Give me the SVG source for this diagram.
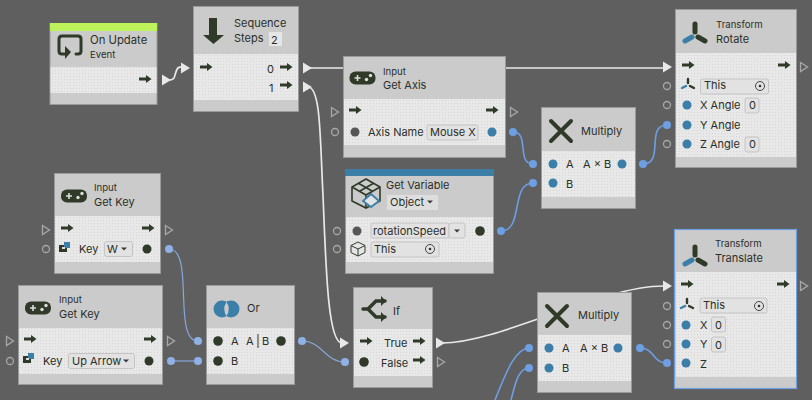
<svg xmlns="http://www.w3.org/2000/svg" width="812" height="400" viewBox="0 0 812 400">
<style>
text{font-family:Inter,"Noto Sans","Liberation Sans",sans-serif;fill:#2b2f28;font-size:11px}
.s{font-size:9.600px}
.fr{fill:#cbcbcb;stroke:#9a9a9a;stroke-width:1}
.bd{fill:url(#dots)}
.fd{fill:#e2e2e2;stroke:#c4c4c4;stroke-width:1}
.blue{fill:#3b7fa8}
.dark{fill:#2f3a28}
.gray{fill:#575757}
.oc{fill:none;stroke:#a8a8a8;stroke-width:1.3}
.ot{fill:none;stroke:#a8a8a8;stroke-width:1.3}
.wire{fill:none;stroke:#6e9fe3;stroke-width:1.6}
.wl{fill:none;stroke:#86a8dc;stroke-width:1.200}
.ww{fill:none;stroke:#e8e8e8;stroke-width:1.7}
.wd{fill:#6e9fe3}
.wdl{fill:#8fb1e6}
.wt{fill:#e8e8e8}
.ln{fill:none;stroke:#2f3a28;stroke-linecap:round}
</style>
<defs>
<pattern id="dots" width="3" height="3" patternUnits="userSpaceOnUse"><rect width="3" height="3" fill="#e8e8e8"/><rect x="1" y="1" width="1" height="1" fill="#d6d6d6"/></pattern>
<path id="ar" class="dark" d="M-6-1.400H1V-4L6.500 0 1 4V1.400H-6Z"/>
<path id="tw" class="wt" d="M0-5.500 9 0 0 5.500Z"/>
<path id="to" class="ot" d="M-3.500-4.500 3.500 0-3.500 4.500Z"/>
<g id="pad"><rect x="-13" y="-6.500" width="26" height="13" rx="6" class="dark"/><path d="M-8 0H-2M-5-3V3" stroke="#ddd" stroke-width="1.600"/><circle cx="4" cy="1.500" r="1.700" fill="#ddd"/><circle cx="8" cy="-2.500" r="1.700" fill="#ddd"/></g>
<g id="tf"><path class="ln" d="M0-3V-11M3 2 10 6" stroke-width="5"/><path d="M-3 2-10 6" fill="none" stroke="#3b7fa8" stroke-width="5" stroke-linecap="round"/></g>
<g id="tfm"><path class="ln" d="M0-2V-6M2 1 6 3" stroke-width="2.400"/><path d="M-2 1-6 3" fill="none" stroke="#3b7fa8" stroke-width="2.400" stroke-linecap="round"/></g>
<g id="tgt"><circle r="4.500" fill="none" stroke="#444" stroke-width="1"/><circle r="1.300" fill="#333"/></g>
<g id="key"><rect x="-6" y="-2" width="8" height="7" class="dark"/><rect x="-1" y="-5" width="6" height="6" class="blue"/><rect x="-3" y="0" width="3" height="2" fill="#ddd"/></g>
<path id="xx" class="ln" stroke-width="4" d="M-10-10 10 10M10-10-10 10"/>
<path id="tri" fill="#3a3a3a" d="M-3-1.500H3L0 1.500Z"/>
</defs>
<rect width="812" height="400" fill="#5f5f5f"/>

<g id="connectors">
<path class="ww" d="M168 80C176 80 174 76 176 72C177 67 180 66 184 68"/>
<use href="#tw" x="162" y="80"/><use href="#tw" x="181" y="68"/>
<path class="ww" d="M308 68H664"/><use href="#tw" x="303" y="68"/><use href="#tw" x="663" y="67"/>
<path class="ww" d="M308 87C321 87 320 140 323 195C326 270 328 343 342 343"/><use href="#tw" x="303" y="87"/><use href="#tw" x="340" y="343"/>
<path class="ww" d="M442 343C500 343 600 286 664 286"/><use href="#tw" x="436" y="343"/><use href="#tw" x="663" y="286"/>
<path class="wire" d="M513 132C530 132 516 164 533 164"/><circle class="wd" cx="513" cy="132" r="4"/><circle class="wd" cx="533" cy="164" r="4"/>
<path class="wire" d="M501 231C524 231 510 183 533 183"/><circle class="wd" cx="501" cy="231" r="4"/><circle class="wd" cx="533" cy="183" r="4"/>
<path class="wire" d="M643 164C665 164 645 125 667 125"/><circle class="wd" cx="643" cy="164" r="4"/><circle class="wd" cx="667" cy="125" r="4"/>
<path class="wl" d="M169 249C195 249 172 341 198 341"/><circle class="wdl" cx="169" cy="249" r="4"/><circle class="wdl" cx="198" cy="341" r="4"/>
<path class="wl" d="M171 361H198"/><circle class="wdl" cx="171" cy="361" r="4"/><circle class="wdl" cx="198" cy="361" r="4"/>
<path class="wl" d="M302 341C322 341 325 362 345 362"/><circle class="wdl" cx="302" cy="341" r="4"/><circle class="wdl" cx="345" cy="362" r="4"/>
<path class="wire" d="M495 400C505 375 515 348 529 348"/><circle class="wd" cx="529" cy="348" r="4"/>
<path class="wire" d="M511 400C515 385 518 368 529 368"/><circle class="wd" cx="529" cy="368" r="4"/>
<path class="wire" d="M640 348C655 348 652 363 667 363"/><circle class="wd" cx="640" cy="348" r="4"/><circle class="wd" cx="667" cy="363" r="4"/>
</g>

<g id="on-update">
<rect class="fr" x="50" y="23.500" width="107" height="81"/>
<rect x="50" y="23" width="107" height="8" fill="#bdf25a"/>
<rect class="bd" x="50.500" y="67" width="106" height="26"/>
<path class="ln" stroke-width="3" d="M66 54H62Q59 54 59 51V39Q59 36 62 36H78Q81 36 81 39V51Q81 54 78 54H76"/>
<path class="dark" d="M65 46 71 52 65 59Z"/>
<text x="90" y="44" font-size="11.300" style="font-size:11.300px">On Update</text><text class="s" x="90" y="58">Event</text>
<use href="#ar" x="145" y="79"/>
</g>

<g id="sequence">
<rect class="fr" x="193.500" y="6.500" width="105" height="105"/>
<rect class="bd" x="194" y="54" width="104" height="46"/>
<path class="dark" d="M209 18H217V35H224L213.500 44 203 35H209Z"/>
<text x="234" y="27">Sequence</text><text x="234" y="42">Steps</text>
<rect x="269" y="32" width="13" height="14" fill="#e6e6e6"/><text x="271" y="44">2</text>
<use href="#ar" x="206" y="67"/><text x="267" y="73">0</text><use href="#ar" x="286" y="67"/>
<text x="269" y="92">1</text><use href="#ar" x="286" y="85"/>
</g>

<g id="get-axis">
<rect class="fr" x="343.500" y="56.500" width="162" height="101"/>
<rect class="bd" x="344" y="99" width="161" height="46"/>
<use href="#pad" x="362.500" y="78"/>
<text class="s" x="383" y="75">Input</text><text x="383" y="89">Get Axis</text>
<use href="#to" x="335" y="112"/><circle class="oc" cx="335" cy="132" r="3.500"/>
<use href="#ar" x="355" y="110"/><use href="#ar" x="492" y="110"/><use href="#to" x="514" y="112"/>
<circle class="gray" cx="355" cy="132" r="4.500"/><text x="368" y="136">Axis Name</text>
<rect class="fd" x="427" y="125" width="51" height="15" rx="2"/><text x="430" y="136">Mouse X</text>
<circle class="blue" cx="492" cy="132" r="4.500"/>
</g>

<g id="multiply-1">
<rect class="fr" x="541.500" y="107.500" width="94" height="101"/>
<rect class="bd" x="542" y="151" width="93" height="46"/>
<use href="#xx" x="561" y="131"/><text x="581" y="135">Multiply</text>
<circle class="blue" cx="553" cy="164" r="4.500"/><text x="566" y="168">A</text><text x="583" y="168">A × B</text><circle class="blue" cx="622" cy="164" r="4.500"/>
<circle class="blue" cx="553" cy="183" r="4.500"/><text x="566" y="188">B</text>
</g>

<g id="rotate">
<rect class="fr" x="675.500" y="9.500" width="121" height="158"/>
<rect class="bd" x="676" y="53" width="120" height="104"/>
<use href="#tf" x="695" y="35"/>
<text class="s" x="716" y="28">Transform</text><text x="716" y="43">Rotate</text>
<use href="#ar" x="688" y="65"/><use href="#ar" x="784" y="65"/><use href="#to" x="804" y="67"/>
<circle class="oc" cx="667" cy="86" r="3.500"/><circle class="oc" cx="667" cy="105" r="3.500"/><circle class="oc" cx="667" cy="144" r="3.500"/>
<use href="#tfm" x="688" y="85"/><rect class="fd" x="700.500" y="79" width="68" height="15" rx="2"/><text x="704" y="89">This</text><use href="#tgt" x="760" y="86"/>
<circle class="blue" cx="687" cy="105" r="4.500"/><text x="700" y="109">X Angle</text><rect class="fd" x="745" y="98" width="14" height="15" rx="2"/><text x="749" y="109">0</text>
<circle class="blue" cx="687" cy="125" r="4.500"/><text x="700" y="129">Y Angle</text>
<circle class="blue" cx="687" cy="144" r="4.500"/><text x="700" y="148">Z Angle</text><rect class="fd" x="745" y="137" width="14" height="15" rx="2"/><text x="749" y="148">0</text>
</g>

<g id="get-variable">
<rect class="fr" x="345.500" y="169.500" width="148" height="104"/>
<rect x="345" y="169" width="149" height="7" fill="#3b7fa8"/>
<rect class="bd" x="346" y="217" width="147" height="45"/>
<path fill="none" stroke="#2f3a28" stroke-width="1.600" d="M366 179 352 187V201L366 208 380 201V187ZM352 187 366 195 380 187M366 195V208M358 183 372 191M374 183 360 191"/>
<path fill="#e3e3e3" stroke="#3b7fa8" stroke-width="1.800" d="M371 194 379 201 371 207 363 201Z"/>
<text x="386" y="189">Get Variable</text>
<rect x="387" y="195" width="51" height="15" fill="#dedede"/><text x="390" y="206">Object</text><use href="#tri" x="430" y="202"/>
<circle class="oc" cx="337" cy="231" r="3.500"/><circle class="oc" cx="337" cy="249" r="3.500"/>
<circle class="gray" cx="357" cy="231" r="4.500"/>
<rect class="fd" x="371" y="223" width="78" height="15" rx="2"/><rect class="fd" x="449" y="223" width="16" height="15" rx="2"/>
<text x="373" y="235">rotationSpeed</text><use href="#tri" x="457" y="231"/>
<circle class="dark" cx="480" cy="231" r="4.800"/>
<path fill="none" stroke="#2f3a28" stroke-width="1" d="M358 242 351 245.500V252.500L358 256 365 252.500V245.500ZM351 245.500 358 249 365 245.500M358 249V256"/>
<rect class="fd" x="371" y="242" width="68" height="15" rx="2"/><text x="374" y="253">This</text><use href="#tgt" x="430" y="249"/>
</g>

<g id="get-key-w">
<rect class="fr" x="54.500" y="173.500" width="106" height="100"/>
<rect class="bd" x="55" y="216" width="105" height="46"/>
<use href="#pad" x="74" y="196"/>
<text class="s" x="94" y="191">Input</text><text x="94" y="206">Get Key</text>
<use href="#to" x="46" y="230"/><circle class="oc" cx="46" cy="249" r="3.500"/>
<use href="#ar" x="67" y="228"/><use href="#ar" x="148" y="228"/><use href="#to" x="169" y="230"/>
<use href="#key" x="65" y="247"/><text x="79" y="253">Key</text>
<rect class="fd" x="104.500" y="241.500" width="28" height="15" rx="2"/><text x="107" y="253">W</text><use href="#tri" x="124" y="249"/>
<circle class="dark" cx="147" cy="249" r="4.500"/>
</g>

<g id="get-key-up">
<rect class="fr" x="18.500" y="285.500" width="144" height="99"/>
<rect class="bd" x="19" y="328" width="143" height="46"/>
<use href="#pad" x="38" y="308"/>
<text class="s" x="59" y="303">Input</text><text x="59" y="318">Get Key</text>
<use href="#to" x="10" y="341"/><circle class="oc" cx="10" cy="361" r="3.500"/>
<use href="#ar" x="30" y="339"/><use href="#ar" x="150" y="339"/><use href="#to" x="171" y="341"/>
<use href="#key" x="29" y="358"/><text x="43" y="365">Key</text>
<rect class="fd" x="68.500" y="353.500" width="66" height="15" rx="2"/><text x="72" y="365">Up Arrow</text><use href="#tri" x="126" y="361"/>
<circle class="dark" cx="149" cy="361" r="4.500"/>
</g>

<g id="or">
<rect class="fr" x="206.500" y="285.500" width="88" height="99"/>
<rect class="bd" x="207" y="328" width="87" height="46"/>
<circle class="blue" cx="222" cy="309" r="8.500"/><circle class="blue" cx="231" cy="309" r="8.500"/>
<path d="M226.500 302Q231 309 226.500 316Q222 309 226.500 302Z" fill="#cbcbcb"/>
<text x="247" y="312">Or</text>
<circle class="dark" cx="218" cy="341" r="4.800"/><text x="231" y="345">A</text><text x="246" y="345">A</text><path d="M258 334V348" stroke="#2f3a28"/><text x="262" y="345">B</text><circle class="dark" cx="281" cy="341" r="4.800"/>
<circle class="dark" cx="218" cy="361" r="4.800"/><text x="231" y="365">B</text>
</g>

<g id="if">
<rect class="fr" x="353.500" y="287.500" width="79" height="100"/>
<rect class="bd" x="354" y="329" width="78" height="47"/>
<path class="ln" stroke-width="3.500" d="M363 309H368L376 301H385M368 309 376 317H385"/><path class="dark" d="M381 296 386 301 381 306ZM381 312 386 317 381 322Z"/>
<text x="393" y="315">If</text>
<use href="#ar" x="366" y="341"/><text x="384" y="347">True</text><use href="#ar" x="419" y="341"/>
<circle class="dark" cx="364" cy="362" r="4.800"/><text x="381" y="367">False</text><use href="#ar" x="419" y="360"/><use href="#to" x="441" y="362"/>
</g>

<g id="multiply-2">
<rect class="fr" x="537.500" y="292.500" width="94" height="100"/>
<rect class="bd" x="538" y="335" width="93" height="46"/>
<use href="#xx" x="557" y="316"/><text x="578" y="319">Multiply</text>
<circle class="blue" cx="549" cy="348" r="4.500"/><text x="562" y="352">A</text><text x="580" y="352">A × B</text><circle class="blue" cx="618" cy="348" r="4.500"/>
<circle class="blue" cx="549" cy="368" r="4.500"/><text x="562" y="372">B</text>
</g>

<g id="translate">
<rect x="674.500" y="229.500" width="122" height="159" fill="#cbcbcb" stroke="#6e9fe3" stroke-width="1.200"/>
<rect class="bd" x="676" y="272" width="120" height="105"/>
<use href="#tf" x="695" y="258"/>
<text class="s" x="715" y="247">Transform</text><text x="715" y="262">Translate</text>
<use href="#ar" x="687" y="284"/><use href="#ar" x="783" y="284"/><use href="#to" x="804" y="286"/>
<circle class="oc" cx="667" cy="306" r="3.500"/><circle class="oc" cx="667" cy="325" r="3.500"/><circle class="oc" cx="667" cy="344" r="3.500"/>
<use href="#tfm" x="687" y="305"/><rect class="fd" x="700" y="298" width="67" height="15" rx="2"/><text x="703" y="309">This</text><use href="#tgt" x="759" y="306"/>
<circle class="blue" cx="686" cy="325" r="4.500"/><text x="700" y="329">X</text><rect class="fd" x="711.500" y="317" width="14" height="15" rx="2"/><text x="715" y="329">0</text>
<circle class="blue" cx="686" cy="344" r="4.500"/><text x="700" y="348">Y</text><rect class="fd" x="711.500" y="337" width="14" height="15" rx="2"/><text x="715" y="349">0</text>
<circle class="blue" cx="686" cy="363" r="4.500"/><text x="700" y="368">Z</text>
</g>
</svg>
